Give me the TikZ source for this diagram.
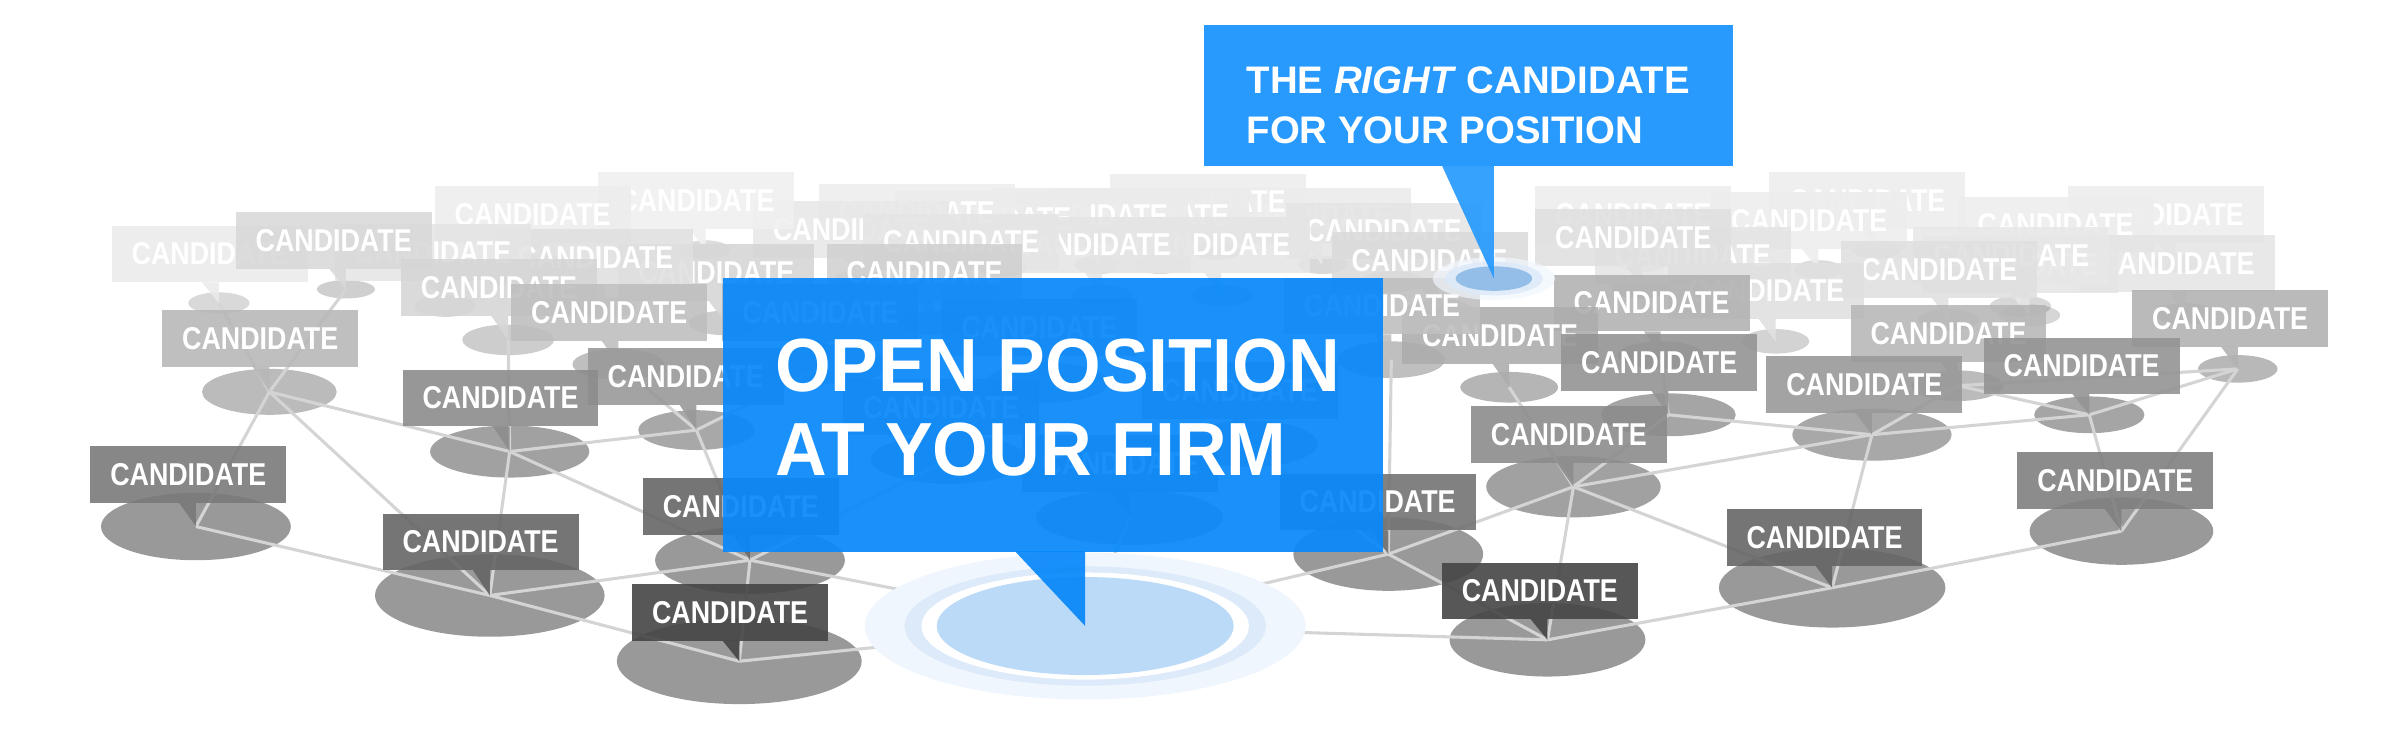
\documentclass[tikz,border=0pt]{standalone}
\usepackage{fontspec}
\setmainfont{Liberation Sans}
\definecolor{bigblue}{RGB}{8,136,250}
\definecolor{rightblue}{RGB}{40,154,254}
\definecolor{ringin}{RGB}{186,218,247}
\definecolor{ringmid}{RGB}{220,234,250}
\definecolor{ringout}{RGB}{240,246,253}
\definecolor{smallblue}{RGB}{140,186,230}
\definecolor{linkgray}{RGB}{212,212,212}
\tikzset{
  cbox/.style={minimum width=19.2mm, minimum height=5.55mm, inner sep=0pt, text=white,
    font=\bfseries\fontsize{8.8}{9}\selectfont, fill opacity=0.9, text opacity=1},
  link/.style={draw=linkgray, line width=0.3mm},
  bubble/.style={inner sep=0pt, anchor=north west},
  bubbletext/.style={inner sep=0pt, anchor=north west, text=white, align=left},
}
% name/cx/cy/tipx/tipy/rx/ry/darkness   (units: 1 = 0.15mm, y downwards)
\def\candlist{%
t01/1415/140/1421/172/16/6/7,%
t02/1343/147/1349/180/16/6/7,%
t03/1220/131/1226/163/16/6/7,%
t04/1182/144/1188/176/16/6/7,%
t05/1067/140/1073/172/16/6/7,%
t06/858/141/864/173/16/6/8,%
t07/789/132/795/164/16/6/7,%
t08/752/141/758/173/16/6/8,%
t09/712/141/718/173/16/6/8,%
t10/649/143/655/175/16/6/8,%
t11/599/139/605/171/16/6/7,%
t12/556/150/562/182/16/6/9,%
t13/455/131/461/163/16/6/6,%
t14/348/140/354/172/16/6/7,%
s01/1422/172/1428/205/20/7/10,%
s02/1320/173/1326/206/20/7/10,%
s03/1314/167/1320/200/20/7/9,%
s04/1267/176/1273/209/20/7/12,%
s05/1106/167/1112/200/20/7/10,%
s06/1154/190/1160/223/22/8/12,%
s07/1067/155/1073/188/20/7/12,%
s08/904/151/910/184/20/7/10,%
s09/792/160/798/193/20/7/10,%
s10/714/160/720/193/20/7/10,%
s11/628/158/634/191/20/7/10,%
s12/934/170/940/203/22/8/14,%
s13/604/178/610/211/24/8/18,%
s14/468/178/474/211/24/8/16,%
s15/389/168/395/201/20/7/12,%
s16/283/165/291/200/20/7/10,%
s17/137/166/143/198/20/7/8,%
s18/218/157/226/189/19/6/15,%
s19/326/188/332/222/30/10/16,%
s20/398/204/404/238/30/10/25,%
q01/1457/208/1462/241/26/9/30,%
q02/1273/218/1279/252/30/10/28,%
q03/1079/198/1085/232/28/9/30,%
q04/980/219/986/253/32/10/32,%
q05/903/200/909/235/35/12/25,%
u01/536/204/541/238/40/13/30,%
u02/679/214/684/250/40/13/30,%
u04/810/255/816/290/45/15/35,%
M/1360/239/1365/271/36/12/42,%
L/1218/251/1223/284/52/17/40,%
O/1084/237/1090/271/44/14/42,%
F/170/221/176/256/44/15/28,%
R/448/246/455/281/38/13/40,%
E/327/260/333/295/52/17/45,%
u03/615/266/620/300/51/16/35,%
u06/732/303/738/338/61/18/40,%
K/1025/284/1028/318/57/20/45,%
J/1382/314/1386/347/60/22/50,%
A/123/310/128/344/62/22/52,%
H/900/328/907/362/62/24/55,%
D/484/331/490/366/62/22/60,%
B/314/354/320/389/75/27/60,%
I/1192/351/1197/384/74/26/60,%
G/1006/386/1011/418/64/24/73,%
C/477/400/483/432/80/28/73%
}
\begin{document}
\begin{tikzpicture}[x=0.15mm, y=-0.15mm]
\useasboundingbox (0,0) rectangle (1568,490);
\coordinate (target) at (709,409);
\coordinate (rtip) at (976,182);
% ground ellipses
\foreach \n/\cx/\cy/\tx/\ty/\rx/\ry/\d in \candlist {
  \coordinate (\n) at (\tx,\ty);
  \pgfmathsetmacro\eop{min(0.4,0.1+0.006*\d)}
  \fill[black, fill opacity=\eop] (\n) ellipse [x radius=\rx*0.15mm, y radius=\ry*0.15mm];
}
% connectors
\foreach \a/\b in {A/F, A/B, F/B, F/E, E/B, E/D, B/C, B/D, C/D, F/s17, F/s18, E/s19,
  E/R, R/D, R/u01, s20/R, C/target, D/target, target/G, target/H, G/H, G/K, G/I,
  H/K, K/I, I/J, I/L, J/M, J/q01, K/L, L/M, M/q01, O/L, O/K, q02/M, q02/L, q01/q02,
  q04/K, q03/O, q05/H, u03/D, u06/target, u04/H}
  \draw[link] (\a) -- (\b);
% target rings
\fill[ringout] (target) ellipse [x radius=144*0.15mm, y radius=48*0.15mm];
\fill[ringmid] (target) ellipse [x radius=118*0.15mm, y radius=39*0.15mm];
\fill[white] (target) ellipse [x radius=107*0.15mm, y radius=35*0.15mm];
\fill[ringin] (target) ellipse [x radius=97*0.15mm, y radius=32*0.15mm];
% candidate bubbles
\foreach \n/\cx/\cy/\tx/\ty/\rx/\ry/\d in \candlist {
  \node[cbox, fill=black!\d] (\n-box) at (\cx,\cy) {\scalebox{0.85}[1]{CANDIDATE}};
  \fill[black!\d, fill opacity=0.9] (\tx-11,\cy+18.5) -- (\tx,\cy+18.5) -- (\n) -- cycle;
}
% small target of the right bubble
\fill[ringout, fill opacity=0.7] (rtip) ellipse [x radius=40*0.15mm, y radius=14*0.15mm];
\fill[ringmid, fill opacity=0.8] (rtip) ellipse [x radius=32*0.15mm, y radius=11*0.15mm];
\fill[smallblue, fill opacity=0.9] (rtip) ellipse [x radius=25*0.15mm, y radius=8*0.15mm];
% big open position bubble
\node[bubble, fill=bigblue, fill opacity=0.93, minimum width=64.65mm, minimum height=26.85mm] (open) at (472,181) {};
\fill[bigblue, fill opacity=0.93] (663,360) -- (709,360) -- (target) -- cycle;
\node[bubbletext, font=\bfseries\fontsize{21}{23.4}\selectfont] (opentext) at (506,221)
  {\scalebox{0.95}[1]{OPEN POSITION}\\\scalebox{0.95}[1]{AT YOUR FIRM}};
% right candidate bubble
\node[bubble, fill=rightblue, minimum width=51.9mm, minimum height=13.8mm] (right) at (786,16) {};
\fill[rightblue, fill opacity=0.93] (942,108) -- (976,108) -- (rtip) -- cycle;
\node[bubbletext, font=\bfseries\fontsize{10.7}{14}\selectfont] (righttext) at (814,43)
  {THE \textit{RIGHT} CANDIDATE\\FOR YOUR POSITION};
\end{tikzpicture}
\end{document}
